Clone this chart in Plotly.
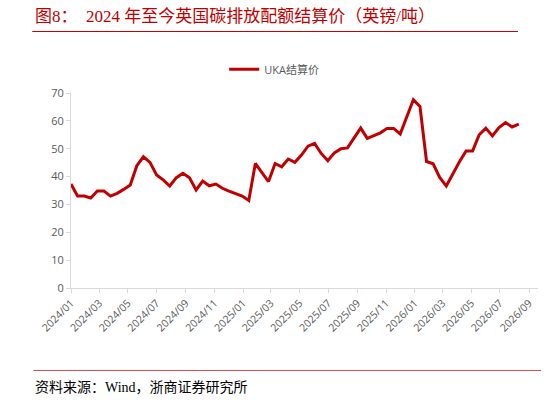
import pandas as pd
import plotly.graph_objects as go

# UKA settlement price, biweekly, GBP/t
start_date = "2024-01-01"
uka_price = [
    37.3, 33.0, 33.0, 32.3, 34.8, 34.8, 33.0, 34.0, 35.4, 37.0,
    43.9, 47.1, 45.1, 40.6, 38.8, 36.6, 39.6, 41.2, 39.6, 35.2,
    38.4, 36.7, 37.3, 35.8, 34.8, 34.0, 33.0, 31.4, 44.7, 41.4,
    38.2, 44.7, 43.5, 46.3, 45.1, 47.7, 50.9, 51.9, 48.3, 45.7,
    48.5, 50.0, 50.3, 53.9, 57.4, 53.7, 54.6, 55.7, 57.3, 57.3,
    55.3, 61.4, 67.6, 65.2, 45.4, 44.6, 39.7, 36.6, 41.2, 45.3,
    49.2, 49.2, 55.0, 57.4, 54.6, 57.6, 59.4, 57.8, 58.8,
]
dates = pd.date_range(start_date, periods=len(uka_price), freq="14D")

title_text = "图8：  2024 年至今英国碳排放配额结算价（英镑/吨）"
source_text = "资料来源：Wind，浙商证券研究所"

RED = "#C00000"
GREY = "#595959"
AXIS = "#D9D9D9"

W, H = 548, 403
L, R, T, B = 70.7, 538.0, 92.7, 288.3


def px(x):
    return (x - L) / (R - L)


def py(y):
    return (B - y) / (B - T)


fig = go.Figure()
fig.add_trace(go.Scatter(
    x=dates, y=uka_price, mode="lines", name="UKA结算价",
    line=dict(color=RED, width=3),
))

fig.update_xaxes(
    type="date",
    range=["2024-01-01", "2026-09-20"],
    tick0="2024-01-01", dtick="M2", tickformat="%Y/%m",
    tickangle=-45,
    showgrid=False, zeroline=False,
    showline=True, linecolor=AXIS, linewidth=1,
    ticks="outside", ticklen=4, tickcolor=AXIS,
    tickfont=dict(family="Open Sans, Noto Sans CJK SC", size=10.5, color=GREY),
)
fig.update_yaxes(
    range=[0, 70], dtick=10,
    showgrid=False, zeroline=False,
    showline=True, linecolor=AXIS, linewidth=1,
    ticks="outside", ticklen=4, tickcolor=AXIS,
    tickfont=dict(family="Open Sans, Noto Sans CJK SC", size=11, color=GREY),
)

fig.update_layout(
    width=W, height=H,
    margin=dict(l=L, r=W - R, t=T, b=H - B, pad=0),
    plot_bgcolor="white", paper_bgcolor="white",
    showlegend=True,
    legend=dict(
        orientation="h", x=px(274), y=py(69),
        xanchor="center", yanchor="middle",
        itemwidth=30,
        font=dict(family="Open Sans, Noto Sans CJK SC", size=11, color=GREY),
    ),
    shapes=[
        dict(type="line", xref="paper", yref="paper",
             x0=px(32), x1=px(518), y0=py(31), y1=py(31),
             line=dict(color=RED, width=1)),
        dict(type="line", xref="paper", yref="paper",
             x0=px(33), x1=px(541), y0=py(371), y1=py(371),
             line=dict(color="#D24B4B", width=1)),
    ],
    annotations=[
        dict(text=title_text, xref="paper", yref="paper",
             x=px(33), y=py(16), xanchor="left", yanchor="middle",
             showarrow=False,
             font=dict(family="Liberation Serif, Noto Sans CJK SC", size=17, color=RED)),
        dict(text=source_text, xref="paper", yref="paper",
             x=px(33), y=py(388), xanchor="left", yanchor="middle",
             showarrow=False,
             font=dict(family="Liberation Serif, Noto Sans CJK SC", size=14, color="black")),
    ],
)

# drop the browser's default body margin so the figure sits at (0, 0)
fig.write_html(
    "out.html",
    config={"displayModeBar": False},
    post_script="document.body.style.margin = '0';",
)
